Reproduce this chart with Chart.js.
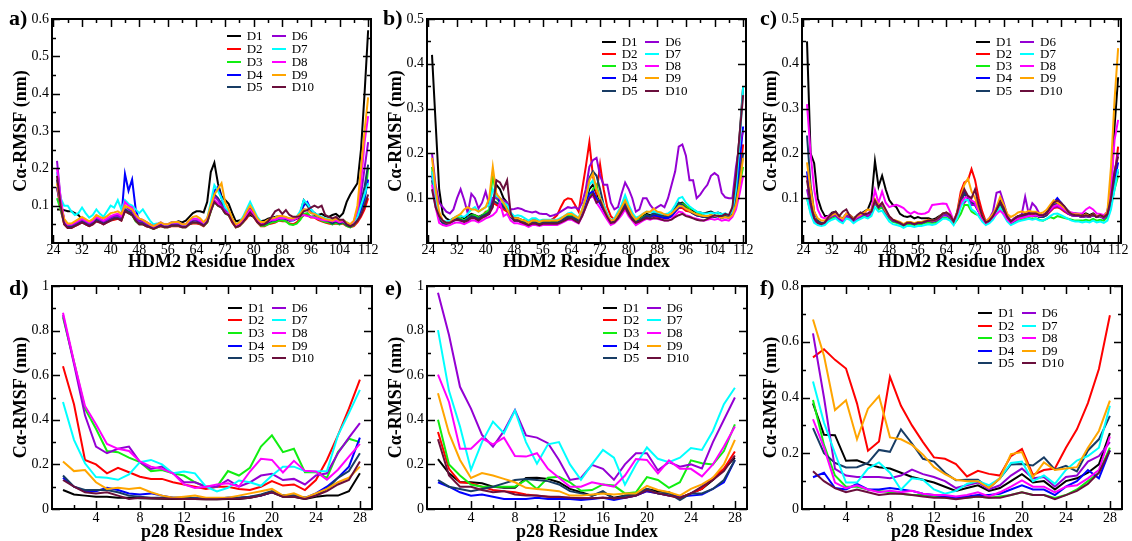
<!DOCTYPE html>
<html><head><meta charset="utf-8">
<script src="https://cdn.jsdelivr.net/npm/chart.js@4/dist/chart.umd.min.js"></script>
<style>
html,body{margin:0;padding:0;background:#fff;}
body{width:1132px;height:541px;overflow:hidden;position:relative;font-family:"Liberation Serif","DejaVu Serif",serif;color:#000}
canvas{position:absolute}
.letter{position:absolute;font-weight:bold;font-size:22px;line-height:22px;white-space:nowrap}
.li{position:absolute;height:14px;display:flex;align-items:center;font-size:13px;line-height:14px;white-space:nowrap}
.li span.sw{display:inline-block;width:14px;height:2px;margin-right:6px}
</style></head><body>
<script>
const hdmRes = [25,26,27,28,29,30,31,32,33,34,35,36,37,38,39,40,41,42,43,44,45,46,47,48,49,50,51,52,53,54,55,56,57,58,59,60,61,62,63,64,65,66,67,68,69,70,71,72,73,74,75,76,77,78,79,80,81,82,83,84,85,86,87,88,89,90,91,92,93,94,95,96,97,98,99,100,101,102,103,104,105,106,107,108,109,110,111,112];
const p28Res = [1,2,3,4,5,6,7,8,9,10,11,12,13,14,15,16,17,18,19,20,21,22,23,24,25,26,27,28];
const seriesNames = ['D1','D2','D3','D4','D5','D6','D7','D8','D9','D10'];
const seriesColors = ['#000000','#ff0000','#11ee11','#0000ff','#183c64','#9400d3','#00ffff','#ff00ff','#ffa500','#6a0f3c'];
const hdmTicks = [24,32,40,48,56,64,72,80,88,96,104,112];
const hdmMinor = [28,36,44,52,60,68,76,84,92,100,108];
const p28Ticks = [4,8,12,16,20,24,28];
const p28Minor = [2,6,10,14,18,22,26];
const yTicksA = [0.1,0.2,0.3,0.4,0.5,0.6];
const yMinorA = [0.05,0.15,0.25,0.35,0.45,0.55];
const yTicksBC = [0.1,0.2,0.3,0.4,0.5];
const yMinorBC = [0.05,0.15,0.25,0.35,0.45];
const yTicksDE = [0,0.2,0.4,0.6,0.8,1];
const yMinorDE = [0.1,0.3,0.5,0.7,0.9];
const yTicksF = [0,0.2,0.4,0.6,0.8];
const yMinorF = [0.1,0.3,0.5,0.7];

// ---- panel a (HDM2, residues 25-112)
const aD1 = [.09,.09,.088,.085,.085,.08,.075,.062,.055,.052,.06,.065,.06,.058,.062,.07,.072,.075,.07,.088,.08,.078,.065,.058,.06,.055,.05,.045,.05,.052,.05,.05,.055,.055,.058,.055,.06,.07,.08,.085,.085,.082,.11,.19,.215,.16,.125,.115,.105,.08,.058,.06,.065,.07,.075,.07,.062,.058,.06,.065,.068,.07,.072,.07,.068,.065,.062,.065,.07,.075,.075,.07,.072,.075,.078,.072,.07,.075,.078,.07,.08,.11,.13,.145,.16,.25,.40,.57];
const aD2 = [.15,.09,.05,.04,.04,.045,.05,.055,.05,.045,.05,.058,.055,.05,.055,.06,.062,.065,.06,.085,.08,.075,.06,.05,.05,.045,.042,.038,.042,.045,.042,.042,.045,.045,.045,.042,.042,.05,.052,.052,.05,.045,.055,.085,.115,.105,.095,.08,.075,.055,.042,.045,.055,.065,.08,.07,.055,.045,.045,.05,.052,.055,.06,.058,.058,.052,.05,.055,.065,.075,.075,.068,.068,.062,.058,.055,.052,.05,.052,.05,.052,.045,.042,.045,.055,.07,.09,.12];
const aD3 = [.12,.09,.055,.045,.042,.048,.052,.058,.052,.048,.052,.062,.058,.052,.058,.062,.065,.068,.062,.09,.08,.075,.058,.05,.05,.046,.042,.038,.042,.046,.042,.042,.046,.046,.046,.042,.042,.05,.055,.055,.052,.046,.055,.085,.11,.10,.095,.08,.075,.058,.042,.046,.055,.07,.085,.072,.058,.046,.046,.05,.055,.056,.06,.06,.058,.05,.048,.052,.062,.078,.08,.07,.07,.065,.06,.056,.055,.05,.054,.05,.054,.046,.042,.048,.06,.085,.11,.20];
const aD4 = [.15,.10,.055,.045,.045,.05,.055,.06,.055,.05,.055,.064,.06,.055,.06,.066,.07,.072,.068,.185,.14,.17,.09,.058,.056,.05,.046,.042,.046,.05,.046,.046,.05,.05,.05,.046,.046,.055,.06,.06,.055,.05,.06,.10,.14,.15,.12,.09,.08,.06,.046,.05,.06,.075,.09,.075,.06,.05,.05,.055,.06,.062,.066,.066,.064,.06,.06,.066,.08,.10,.11,.09,.08,.072,.066,.062,.06,.055,.06,.055,.058,.05,.046,.05,.065,.09,.12,.17];
const aD5 = [.17,.11,.06,.045,.045,.05,.055,.06,.055,.05,.056,.065,.06,.055,.06,.066,.07,.07,.066,.09,.085,.08,.065,.055,.055,.05,.045,.04,.045,.05,.045,.045,.05,.05,.05,.045,.045,.055,.06,.062,.058,.05,.06,.095,.13,.12,.105,.085,.08,.06,.045,.05,.06,.078,.095,.078,.06,.05,.05,.055,.06,.06,.065,.066,.065,.06,.062,.068,.08,.115,.10,.085,.08,.072,.066,.06,.058,.052,.058,.052,.056,.048,.044,.05,.07,.11,.15,.21];
const aD6 = [.22,.12,.06,.048,.048,.052,.058,.062,.058,.052,.058,.068,.062,.058,.062,.068,.072,.072,.068,.10,.09,.085,.068,.058,.058,.052,.048,.042,.048,.052,.048,.048,.052,.052,.052,.048,.048,.058,.062,.062,.058,.052,.062,.095,.125,.115,.10,.088,.082,.062,.048,.052,.062,.078,.09,.078,.062,.052,.052,.058,.062,.062,.068,.068,.068,.062,.062,.068,.078,.09,.088,.08,.078,.072,.068,.062,.062,.058,.062,.058,.06,.052,.048,.055,.08,.13,.20,.27];
const aD7 = [.19,.12,.10,.10,.085,.075,.08,.095,.08,.068,.075,.09,.078,.07,.085,.10,.095,.115,.09,.115,.105,.10,.09,.08,.09,.075,.06,.05,.052,.055,.05,.05,.055,.056,.055,.05,.05,.06,.065,.065,.062,.055,.065,.11,.155,.14,.12,.095,.085,.065,.05,.055,.07,.09,.11,.09,.07,.058,.055,.06,.065,.068,.072,.07,.068,.065,.062,.07,.085,.115,.105,.09,.08,.075,.07,.066,.064,.06,.062,.058,.062,.055,.05,.055,.07,.10,.13,.16];
const aD8 = [.20,.12,.062,.05,.05,.055,.06,.065,.06,.055,.06,.07,.065,.06,.066,.072,.076,.078,.072,.11,.10,.095,.075,.065,.062,.056,.05,.045,.05,.055,.05,.05,.055,.055,.055,.05,.05,.06,.065,.065,.06,.055,.065,.09,.115,.105,.095,.082,.078,.06,.048,.052,.062,.075,.088,.075,.062,.052,.052,.058,.062,.062,.066,.066,.066,.062,.062,.066,.072,.075,.072,.07,.068,.065,.062,.06,.06,.058,.06,.056,.058,.052,.05,.058,.09,.16,.27,.34];
const aD9 = [.16,.10,.065,.052,.052,.058,.064,.07,.064,.058,.064,.075,.07,.066,.072,.08,.082,.085,.078,.10,.095,.09,.075,.065,.062,.056,.05,.045,.05,.055,.05,.05,.055,.056,.056,.05,.05,.062,.07,.072,.066,.056,.066,.10,.13,.145,.16,.11,.09,.066,.05,.055,.066,.085,.10,.085,.066,.056,.056,.062,.066,.068,.072,.072,.07,.066,.066,.07,.078,.09,.09,.08,.078,.072,.068,.064,.062,.06,.066,.06,.062,.055,.05,.06,.10,.20,.30,.39];
const aD10 = [.18,.10,.05,.04,.04,.045,.05,.055,.05,.045,.05,.058,.055,.05,.055,.06,.065,.065,.06,.085,.08,.075,.06,.05,.05,.045,.042,.038,.042,.046,.042,.042,.046,.046,.046,.042,.042,.05,.055,.055,.052,.046,.056,.085,.11,.10,.095,.08,.075,.056,.042,.046,.056,.068,.082,.07,.056,.048,.05,.058,.07,.085,.09,.078,.088,.075,.07,.07,.072,.085,.088,.095,.10,.095,.10,.075,.07,.066,.07,.062,.062,.05,.045,.05,.06,.075,.10,.13];

// ---- panel b
const bD1 = [.42,.27,.12,.065,.055,.05,.055,.058,.06,.055,.06,.065,.062,.058,.062,.065,.07,.085,.13,.12,.10,.09,.065,.055,.055,.052,.05,.045,.05,.05,.048,.05,.05,.05,.048,.048,.052,.056,.06,.062,.058,.052,.07,.095,.12,.13,.11,.095,.08,.062,.05,.052,.062,.075,.09,.072,.06,.05,.055,.06,.065,.062,.066,.065,.062,.06,.06,.066,.075,.088,.09,.082,.078,.072,.068,.068,.066,.068,.07,.066,.068,.065,.062,.06,.075,.14,.24,.35];
const bD2 = [.16,.10,.055,.045,.042,.045,.05,.055,.052,.05,.052,.058,.058,.054,.06,.07,.07,.09,.085,.08,.075,.07,.058,.05,.05,.048,.045,.042,.046,.045,.042,.045,.048,.05,.055,.062,.08,.095,.10,.098,.085,.07,.12,.17,.225,.15,.11,.175,.12,.08,.06,.052,.058,.07,.085,.068,.055,.048,.052,.055,.06,.058,.06,.058,.058,.055,.056,.06,.07,.078,.078,.072,.07,.066,.062,.06,.058,.06,.062,.06,.06,.058,.06,.058,.065,.09,.15,.22];
const bD3 = [.17,.10,.058,.048,.045,.048,.052,.056,.055,.05,.056,.062,.062,.056,.062,.068,.075,.155,.10,.09,.085,.08,.062,.052,.052,.05,.046,.042,.046,.046,.044,.046,.046,.046,.046,.046,.05,.056,.06,.06,.056,.05,.068,.085,.10,.12,.13,.095,.08,.062,.048,.05,.062,.078,.095,.075,.06,.05,.052,.058,.062,.06,.064,.062,.06,.058,.058,.064,.075,.085,.088,.082,.078,.075,.07,.064,.06,.06,.062,.06,.062,.058,.062,.06,.065,.09,.13,.17];
const bD4 = [.15,.10,.055,.045,.042,.045,.05,.052,.05,.048,.052,.058,.056,.052,.058,.062,.065,.10,.11,.09,.08,.075,.058,.05,.05,.046,.044,.04,.044,.044,.042,.044,.044,.044,.044,.044,.048,.054,.058,.058,.054,.05,.068,.09,.11,.115,.10,.088,.072,.058,.045,.048,.058,.072,.088,.07,.056,.046,.05,.055,.06,.058,.062,.06,.058,.056,.056,.06,.07,.08,.082,.076,.072,.066,.062,.06,.058,.058,.06,.058,.06,.056,.058,.056,.065,.10,.18,.26];
const bD5 = [.14,.09,.055,.045,.042,.045,.05,.054,.052,.048,.054,.06,.058,.054,.06,.064,.068,.095,.09,.085,.08,.075,.06,.05,.05,.047,.045,.04,.045,.045,.042,.045,.045,.045,.045,.045,.05,.055,.058,.058,.054,.05,.07,.10,.145,.16,.15,.12,.085,.062,.046,.048,.06,.075,.09,.07,.056,.046,.05,.056,.062,.06,.066,.064,.062,.06,.06,.066,.078,.09,.085,.078,.072,.066,.062,.06,.058,.058,.06,.058,.06,.056,.06,.058,.065,.09,.14,.20];
const bD6 = [.20,.13,.09,.08,.07,.066,.075,.10,.12,.096,.066,.11,.10,.077,.09,.115,.085,.10,.10,.10,.095,.09,.075,.076,.078,.076,.072,.07,.068,.07,.066,.065,.065,.06,.062,.065,.07,.075,.08,.078,.08,.075,.09,.12,.17,.185,.19,.15,.13,.13,.09,.075,.08,.11,.135,.12,.10,.07,.075,.10,.10,.085,.075,.08,.085,.08,.10,.13,.16,.215,.22,.195,.14,.14,.10,.108,.12,.13,.15,.156,.15,.112,.102,.10,.10,.17,.22,.25];
const bD7 = [.16,.10,.06,.05,.048,.05,.055,.06,.06,.058,.065,.075,.08,.07,.075,.08,.085,.12,.105,.10,.09,.085,.068,.06,.062,.06,.055,.05,.055,.055,.05,.052,.052,.052,.052,.052,.056,.06,.066,.068,.062,.056,.075,.10,.13,.14,.12,.10,.085,.066,.05,.055,.07,.085,.107,.085,.068,.056,.06,.065,.07,.068,.07,.068,.066,.064,.066,.072,.085,.10,.103,.09,.082,.076,.07,.068,.066,.066,.068,.066,.068,.064,.066,.062,.07,.12,.22,.35];
const bD8 = [.13,.08,.045,.04,.038,.04,.044,.046,.045,.042,.046,.05,.05,.046,.05,.055,.058,.062,.07,.09,.06,.065,.05,.044,.044,.042,.04,.036,.04,.04,.038,.04,.04,.04,.04,.04,.044,.048,.052,.052,.048,.044,.06,.08,.10,.105,.09,.078,.065,.052,.04,.044,.052,.062,.075,.06,.05,.04,.045,.05,.054,.052,.055,.054,.052,.05,.05,.054,.062,.07,.068,.062,.06,.056,.054,.052,.05,.052,.054,.052,.054,.05,.052,.05,.058,.075,.11,.15];
const bD9 = [.19,.12,.07,.05,.045,.045,.055,.06,.065,.075,.08,.075,.075,.07,.075,.08,.10,.17,.11,.10,.09,.075,.06,.055,.055,.052,.05,.045,.05,.05,.047,.05,.05,.05,.05,.05,.054,.06,.065,.065,.06,.055,.075,.10,.14,.155,.12,.10,.08,.062,.05,.052,.065,.08,.095,.078,.062,.052,.058,.065,.07,.07,.077,.07,.068,.064,.062,.066,.074,.082,.082,.076,.072,.068,.064,.062,.06,.06,.062,.06,.06,.056,.058,.056,.062,.085,.13,.19];
const bD10 = [.12,.08,.06,.05,.045,.045,.05,.052,.05,.047,.05,.056,.055,.05,.056,.06,.065,.08,.14,.135,.12,.14,.066,.05,.05,.046,.043,.04,.043,.043,.04,.043,.043,.043,.043,.043,.046,.05,.054,.055,.05,.045,.06,.08,.10,.11,.09,.095,.075,.058,.045,.046,.055,.068,.08,.065,.052,.045,.048,.052,.056,.054,.056,.055,.053,.05,.05,.052,.058,.062,.065,.06,.058,.055,.052,.05,.05,.054,.058,.062,.06,.06,.065,.062,.08,.15,.24,.33];

// ---- panel c
const cD1 = [.45,.20,.178,.10,.075,.06,.06,.068,.07,.058,.055,.065,.062,.055,.06,.065,.07,.075,.095,.183,.126,.15,.12,.096,.085,.08,.065,.06,.058,.06,.055,.058,.055,.055,.055,.052,.055,.06,.065,.068,.062,.048,.065,.095,.11,.10,.09,.09,.072,.056,.045,.05,.06,.075,.096,.078,.058,.048,.055,.06,.062,.064,.066,.066,.066,.062,.062,.068,.08,.092,.095,.09,.08,.072,.066,.066,.065,.062,.066,.062,.066,.06,.062,.058,.07,.12,.26,.37];
const cD2 = [.15,.09,.055,.045,.042,.046,.055,.06,.062,.054,.05,.062,.058,.05,.056,.06,.064,.06,.068,.095,.08,.085,.07,.057,.05,.048,.045,.04,.045,.045,.042,.045,.045,.048,.05,.048,.05,.056,.064,.066,.06,.046,.07,.115,.135,.14,.165,.14,.10,.07,.048,.052,.062,.075,.088,.072,.056,.046,.05,.056,.058,.06,.062,.062,.062,.058,.058,.062,.07,.078,.08,.076,.07,.065,.062,.06,.06,.058,.06,.058,.062,.058,.06,.055,.06,.09,.15,.215];
const cD3 = [.10,.07,.05,.042,.04,.043,.05,.055,.058,.05,.046,.058,.055,.046,.052,.056,.06,.056,.065,.09,.075,.08,.065,.054,.047,.045,.042,.038,.042,.042,.04,.042,.042,.045,.046,.045,.045,.05,.056,.056,.054,.042,.052,.065,.085,.085,.07,.065,.062,.05,.042,.046,.055,.068,.08,.065,.05,.042,.046,.05,.052,.054,.056,.054,.055,.052,.05,.054,.058,.055,.06,.058,.056,.054,.052,.05,.05,.05,.052,.05,.054,.05,.052,.05,.058,.085,.12,.15];
const cD4 = [.16,.09,.055,.045,.042,.045,.055,.06,.064,.055,.05,.064,.06,.05,.056,.06,.066,.06,.07,.095,.08,.085,.07,.058,.05,.048,.045,.04,.045,.045,.042,.045,.045,.048,.05,.048,.05,.055,.062,.062,.058,.045,.062,.09,.115,.10,.09,.085,.07,.055,.045,.05,.06,.075,.09,.075,.055,.045,.05,.055,.058,.06,.062,.06,.062,.058,.06,.064,.078,.09,.10,.09,.08,.07,.064,.062,.06,.058,.06,.058,.062,.058,.06,.055,.062,.09,.14,.18];
const cD5 = [.24,.13,.07,.05,.045,.046,.055,.06,.064,.055,.05,.064,.06,.05,.056,.06,.066,.06,.07,.095,.082,.085,.07,.058,.05,.048,.045,.04,.045,.045,.042,.045,.045,.048,.05,.048,.05,.055,.062,.062,.058,.045,.062,.09,.11,.105,.09,.085,.07,.055,.045,.05,.06,.075,.09,.075,.055,.045,.05,.055,.058,.06,.062,.06,.062,.058,.058,.062,.075,.085,.088,.082,.075,.066,.062,.06,.06,.058,.06,.058,.062,.058,.06,.055,.062,.09,.13,.16];
const cD6 = [.12,.08,.05,.042,.04,.045,.055,.06,.062,.052,.046,.06,.056,.048,.055,.06,.064,.06,.068,.09,.08,.085,.07,.058,.05,.048,.045,.04,.045,.045,.042,.045,.045,.048,.05,.048,.05,.055,.062,.062,.058,.045,.06,.085,.09,.10,.085,.085,.07,.058,.048,.055,.07,.112,.115,.09,.062,.048,.055,.06,.062,.103,.065,.089,.08,.065,.062,.066,.072,.08,.082,.078,.072,.066,.062,.06,.06,.058,.06,.058,.062,.058,.06,.055,.065,.10,.16,.20];
const cD7 = [.10,.065,.045,.04,.038,.04,.048,.052,.055,.048,.044,.055,.052,.044,.05,.054,.058,.055,.06,.08,.07,.072,.06,.048,.042,.04,.038,.034,.038,.038,.036,.038,.038,.04,.042,.04,.042,.048,.054,.054,.05,.04,.055,.08,.096,.096,.075,.07,.06,.048,.04,.044,.052,.065,.078,.062,.048,.04,.044,.048,.05,.052,.054,.052,.054,.05,.05,.054,.06,.065,.066,.062,.058,.054,.05,.048,.048,.046,.048,.046,.05,.046,.048,.045,.05,.075,.12,.165];
const cD8 = [.31,.20,.12,.075,.058,.055,.06,.065,.068,.058,.052,.066,.062,.052,.058,.062,.068,.064,.075,.118,.09,.115,.09,.08,.083,.085,.082,.078,.07,.065,.07,.066,.065,.066,.07,.085,.086,.087,.088,.087,.07,.05,.065,.09,.10,.105,.095,.09,.07,.055,.045,.05,.058,.065,.072,.065,.052,.045,.05,.054,.056,.058,.06,.06,.062,.06,.062,.066,.075,.082,.085,.08,.075,.07,.068,.066,.066,.066,.075,.08,.075,.066,.065,.062,.07,.12,.23,.275];
const cD9 = [.18,.12,.07,.055,.05,.05,.058,.062,.066,.058,.054,.066,.062,.054,.06,.064,.068,.075,.072,.098,.085,.088,.072,.06,.052,.05,.047,.042,.047,.047,.044,.047,.047,.05,.052,.05,.052,.058,.066,.068,.062,.048,.068,.105,.13,.144,.115,.10,.078,.06,.048,.055,.065,.08,.103,.085,.065,.058,.062,.068,.07,.068,.072,.07,.07,.066,.068,.074,.085,.095,.09,.085,.078,.07,.065,.064,.064,.06,.064,.06,.064,.06,.062,.058,.07,.17,.32,.435];
const cD10 = [.14,.09,.055,.045,.042,.046,.058,.066,.07,.06,.07,.075,.06,.052,.062,.068,.064,.066,.07,.095,.08,.09,.075,.06,.052,.048,.045,.04,.045,.045,.042,.045,.045,.048,.05,.05,.052,.058,.066,.068,.062,.048,.068,.10,.12,.105,.10,.12,.085,.06,.046,.05,.06,.075,.092,.078,.058,.048,.054,.06,.062,.064,.066,.066,.066,.062,.062,.066,.078,.09,.095,.09,.082,.07,.064,.062,.062,.06,.062,.06,.064,.058,.062,.058,.065,.10,.16,.193];

// ---- panel d (p28, residues 1-28)
const dD1 = [.085,.065,.06,.055,.055,.05,.05,.048,.047,.046,.045,.045,.045,.044,.044,.045,.045,.05,.06,.075,.055,.055,.045,.055,.06,.06,.08,.16];
const dD2 = [.64,.47,.22,.20,.16,.185,.165,.145,.135,.135,.12,.11,.10,.09,.10,.10,.09,.085,.10,.125,.105,.11,.085,.13,.22,.33,.45,.58];
const dD3 = [.86,.66,.45,.36,.26,.255,.23,.21,.17,.175,.16,.15,.12,.10,.10,.17,.15,.185,.28,.33,.255,.27,.165,.165,.14,.255,.315,.30];
const dD4 = [.14,.10,.08,.08,.095,.085,.07,.065,.07,.06,.05,.05,.048,.047,.047,.05,.05,.055,.06,.075,.06,.06,.05,.07,.10,.14,.19,.32];
const dD5 = [.15,.10,.085,.085,.085,.075,.06,.055,.05,.05,.05,.05,.048,.047,.047,.05,.05,.055,.065,.08,.06,.06,.05,.06,.09,.14,.17,.25];
const dD6 = [.87,.65,.42,.28,.25,.27,.28,.21,.18,.19,.16,.12,.12,.10,.10,.13,.10,.12,.15,.158,.13,.135,.11,.15,.16,.25,.32,.385];
const dD7 = [.48,.31,.205,.143,.14,.131,.155,.21,.22,.20,.16,.168,.16,.10,.079,.095,.128,.12,.104,.15,.19,.19,.17,.168,.17,.33,.43,.534];
const dD8 = [.88,.66,.462,.38,.292,.27,.26,.213,.19,.18,.16,.11,.094,.10,.11,.115,.10,.168,.225,.22,.164,.216,.171,.168,.131,.176,.235,.292];
const dD9 = [.213,.17,.175,.12,.09,.095,.09,.095,.075,.06,.05,.055,.06,.05,.05,.05,.06,.07,.08,.09,.06,.07,.05,.07,.09,.12,.14,.19];
const dD10 = [.13,.10,.075,.07,.075,.06,.045,.05,.048,.047,.046,.045,.045,.044,.044,.046,.046,.05,.06,.075,.055,.055,.045,.06,.08,.11,.13,.213];

// ---- panel e
const eD1 = [.224,.16,.12,.12,.115,.10,.095,.095,.139,.14,.135,.12,.09,.075,.06,.075,.05,.06,.07,.09,.08,.075,.05,.07,.09,.13,.18,.23];
const eD2 = [.345,.18,.12,.115,.10,.085,.08,.075,.065,.06,.055,.05,.05,.048,.048,.05,.048,.05,.06,.08,.07,.06,.05,.07,.09,.14,.18,.258];
const eD3 = [.40,.20,.15,.11,.10,.10,.10,.10,.13,.09,.14,.145,.12,.082,.085,.11,.105,.07,.075,.143,.13,.095,.12,.218,.205,.20,.26,.38];
const eD4 = [.12,.10,.075,.06,.065,.055,.045,.045,.045,.05,.045,.045,.045,.04,.045,.05,.04,.05,.06,.08,.07,.06,.055,.06,.065,.09,.12,.22];
const eD5 = [.13,.10,.09,.08,.09,.10,.115,.13,.135,.13,.125,.11,.08,.07,.06,.08,.045,.06,.065,.09,.07,.07,.04,.07,.07,.09,.13,.22];
const eD6 = [.97,.78,.548,.45,.332,.28,.35,.444,.33,.32,.295,.22,.13,.139,.198,.18,.131,.20,.25,.25,.173,.21,.19,.20,.182,.30,.40,.50];
const eD7 = [.802,.53,.37,.176,.30,.392,.34,.441,.30,.203,.29,.30,.20,.131,.20,.265,.23,.109,.20,.276,.225,.21,.23,.273,.265,.35,.47,.544];
const eD8 = [.603,.48,.27,.27,.317,.29,.32,.238,.235,.25,.18,.14,.10,.10,.12,.11,.10,.15,.224,.22,.16,.218,.18,.18,.146,.20,.28,.37];
const eD9 = [.519,.34,.22,.139,.161,.15,.135,.12,.095,.09,.085,.08,.06,.06,.065,.07,.065,.07,.07,.104,.085,.075,.06,.09,.11,.14,.20,.31];
const eD10 = [.313,.15,.10,.10,.085,.075,.08,.065,.06,.06,.055,.055,.05,.048,.048,.05,.048,.05,.06,.085,.07,.06,.05,.07,.10,.13,.17,.24];

// ---- panel f
const fD1 = [.379,.266,.265,.173,.175,.16,.15,.145,.13,.115,.105,.095,.08,.065,.075,.085,.065,.075,.10,.125,.095,.10,.07,.10,.11,.13,.16,.272];
const fD2 = [.544,.573,.535,.504,.379,.209,.242,.474,.37,.30,.24,.185,.18,.161,.117,.137,.126,.12,.19,.215,.122,.14,.145,.22,.286,.38,.502,.695];
const fD3 = [.391,.23,.12,.08,.08,.07,.065,.06,.055,.05,.05,.045,.04,.038,.04,.045,.04,.045,.05,.06,.05,.05,.04,.05,.07,.10,.13,.22];
const fD4 = [.114,.13,.075,.07,.09,.07,.07,.075,.07,.065,.055,.05,.045,.04,.045,.05,.05,.055,.07,.085,.07,.07,.05,.08,.10,.14,.11,.21];
const fD5 = [.29,.20,.165,.149,.15,.165,.212,.205,.286,.235,.18,.17,.13,.103,.105,.105,.075,.11,.16,.161,.156,.185,.141,.155,.135,.21,.25,.334];
const fD6 = [.63,.40,.144,.12,.115,.115,.115,.11,.12,.141,.125,.115,.10,.075,.085,.095,.07,.085,.12,.145,.11,.115,.08,.115,.12,.17,.19,.24];
const fD7 = [.457,.31,.20,.095,.095,.145,.167,.13,.069,.11,.105,.07,.055,.065,.09,.10,.085,.11,.165,.17,.10,.12,.09,.14,.174,.19,.22,.37];
const fD8 = [.322,.22,.095,.075,.085,.07,.06,.065,.06,.065,.055,.05,.05,.045,.05,.06,.045,.06,.08,.103,.08,.08,.06,.08,.085,.11,.14,.26];
const fD9 = [.68,.55,.355,.39,.25,.36,.405,.257,.25,.23,.195,.15,.125,.105,.10,.10,.075,.11,.197,.204,.114,.167,.14,.145,.15,.22,.28,.389];
const fD10 = [.135,.10,.075,.06,.07,.06,.05,.055,.055,.05,.045,.04,.04,.035,.04,.045,.04,.04,.05,.06,.05,.05,.035,.05,.065,.09,.13,.21];

const hdmTitle = 'HDM2 Residue Index';
const p28Title = 'p28 Residue Index';
const yTitle = 'C\u03b1-RMSF (nm)';

const top_ = {h:280, padTop:19, xAxisH:37, titlePad:6.7, xTickPad:0, xMin:23.6, xMax:112.8, labels:hdmRes, xTicks:hdmTicks, xMinor:hdmMinor, xTitle:hdmTitle};
const bot_ = {h:285, padTop:16, xAxisH:46, titlePad:11.7, xTickPad:2, xMin:0, xMax:29.1, labels:p28Res, xTicks:p28Ticks, xMinor:p28Minor, xTitle:p28Title};

const panels = [
  Object.assign({}, top_, {left:0,   top:0, w:390, padRight:19, yMax:0.6, yTicks:yTicksA,  yMinor:yMinorA,  series:[aD1,aD2,aD3,aD4,aD5,aD6,aD7,aD8,aD9,aD10], leg:{x:226.7,y:35.8,dx:45,dy:12.9}, letter:'a)', lx:9,   ly:7}),
  Object.assign({}, top_, {left:375, top:0, w:390, padRight:19, yMax:0.5, yTicks:yTicksBC, yMinor:yMinorBC, series:[bD1,bD2,bD3,bD4,bD5,bD6,bD7,bD8,bD9,bD10], leg:{x:601.7,y:41.7,dx:43.5,dy:12.25}, letter:'b)', lx:383, ly:7}),
  Object.assign({}, top_, {left:750, top:0, w:382, padRight:11, yMax:0.5, yTicks:yTicksBC, yMinor:yMinorBC, series:[cD1,cD2,cD3,cD4,cD5,cD6,cD7,cD8,cD9,cD10], leg:{x:976,y:41.7,dx:44,dy:12.25}, letter:'c)', lx:760, ly:7}),
  Object.assign({}, bot_, {left:0,   top:270, w:390, padRight:18, yMax:1, yTicks:yTicksDE, yMinor:yMinorDE, series:[dD1,dD2,dD3,dD4,dD5,dD6,dD7,dD8,dD9,dD10], leg:{x:228.3,y:307.7,dx:43.4,dy:12.65}, letter:'d)', lx:9, ly:277}),
  Object.assign({}, bot_, {left:375, top:270, w:390, padRight:18, yMax:1, yTicks:yTicksDE, yMinor:yMinorDE, series:[eD1,eD2,eD3,eD4,eD5,eD6,eD7,eD8,eD9,eD10], leg:{x:603.3,y:307.7,dx:43.4,dy:12.65}, letter:'e)', lx:385, ly:277}),
  Object.assign({}, bot_, {left:750, top:270, w:382, padRight:10, yMax:0.8, yTicks:yTicksF, yMinor:yMinorF, series:[fD1,fD2,fD3,fD4,fD5,fD6,fD7,fD8,fD9,fD10], leg:{x:978.3,y:313.3,dx:43.4,dy:12.5}, letter:'f)', lx:760, ly:277})
];

Chart.defaults.font.family = '"Liberation Serif","DejaVu Serif",serif';
Chart.defaults.color = '#000';

function framePlugin(p) {
  return {
    id: 'frame' + p.letter,
    afterDatasetsDraw(chart) {
      const ctx = chart.ctx, a = chart.chartArea, xs = chart.scales.x, ys = chart.scales.y;
      ctx.save();
      ctx.strokeStyle = '#000';
      ctx.lineWidth = 1.5;
      ctx.beginPath();
      const xm = (vals, len) => vals.forEach(v => {
        const px = Math.round(xs.getPixelForValue(v)) + 0.5;
        ctx.moveTo(px, a.bottom); ctx.lineTo(px, a.bottom - len);
        ctx.moveTo(px, a.top); ctx.lineTo(px, a.top + len);
      });
      const ym = (vals, len) => vals.forEach(v => {
        const py = Math.round(ys.getPixelForValue(v)) + 0.5;
        ctx.moveTo(a.left, py); ctx.lineTo(a.left + len, py);
        ctx.moveTo(a.right, py); ctx.lineTo(a.right - len, py);
      });
      xm(p.xTicks, 8); xm(p.xMinor, 4);
      ym(p.yTicks, 8); ym(p.yMinor, 4);
      ctx.stroke();
      ctx.lineWidth = 2;
      ctx.strokeRect(a.left, a.top, a.right - a.left, a.bottom - a.top);
      ctx.restore();
    }
  };
}

panels.forEach(p => {
  const cv = document.createElement('canvas');
  cv.width = p.w; cv.height = p.h;
  cv.style.left = p.left + 'px'; cv.style.top = p.top + 'px';
  cv.style.width = p.w + 'px'; cv.style.height = p.h + 'px';
  document.body.appendChild(cv);
  const chart = new Chart(cv, {
    type: 'line',
    data: {
      labels: p.labels,
      datasets: p.series.map((d, i) => ({
        label: seriesNames[i], data: d,
        borderColor: seriesColors[i], backgroundColor: seriesColors[i],
        borderWidth: 2, pointRadius: 0, fill: false, tension: 0, order: 9 - i
      }))
    },
    options: {
      responsive: false, animation: false, devicePixelRatio: 1,
      layout: {padding: {top: p.padTop, right: p.padRight, left: 0, bottom: 0}},
      plugins: {legend: {display: false}, tooltip: {enabled: false}},
      scales: {
        x: {
          type: 'linear', min: p.xMin, max: p.xMax,
          afterBuildTicks: s => { s.ticks = p.xTicks.map(v => ({value: v})); },
          afterFit: s => { s.height = p.xAxisH; s.paddingLeft = 0; s.paddingRight = 0; },
          grid: {display: false, drawTicks: false}, border: {display: false},
          ticks: {autoSkip: false, maxRotation: 0, minRotation: 0, padding: p.xTickPad, color: '#000', font: {size: 14, lineHeight: 1}, callback: v => String(v)},
          title: {display: true, text: p.xTitle, color: '#000', font: {size: 18, weight: 'bold'}, padding: {top: 0, bottom: p.titlePad}}
        },
        y: {
          type: 'linear', min: 0, max: p.yMax,
          afterBuildTicks: s => { s.ticks = p.yTicks.map(v => ({value: v})); },
          afterFit: s => { s.width = 52; s.paddingTop = 0; s.paddingBottom = 0; },
          grid: {display: false, drawTicks: false}, border: {display: false},
          ticks: {autoSkip: false, padding: 3, color: '#000', font: {size: 14, lineHeight: 1}, callback: v => String(+(+v).toFixed(2))},
          title: {display: true, text: yTitle, color: '#000', font: {size: 18, weight: 'bold'}, padding: {top: 11, bottom: 0}}
        }
      }
    },
    plugins: [framePlugin(p)]
  });

  const L = document.createElement('div');
  L.className = 'letter'; L.textContent = p.letter;
  L.style.left = p.lx + 'px'; L.style.top = p.ly + 'px';
  document.body.appendChild(L);

  chart.data.datasets.forEach((ds, i) => {
    const col = Math.floor(i / 5), row = i % 5;
    const it = document.createElement('div');
    it.className = 'li';
    it.style.left = (p.leg.x + col * p.leg.dx) + 'px';
    it.style.top = (p.leg.y + row * p.leg.dy - 7) + 'px';
    const sw = document.createElement('span');
    sw.className = 'sw'; sw.style.background = ds.borderColor;
    const tx = document.createElement('span');
    tx.textContent = ds.label;
    it.appendChild(sw); it.appendChild(tx);
    document.body.appendChild(it);
  });
});
</script>
</body></html>
